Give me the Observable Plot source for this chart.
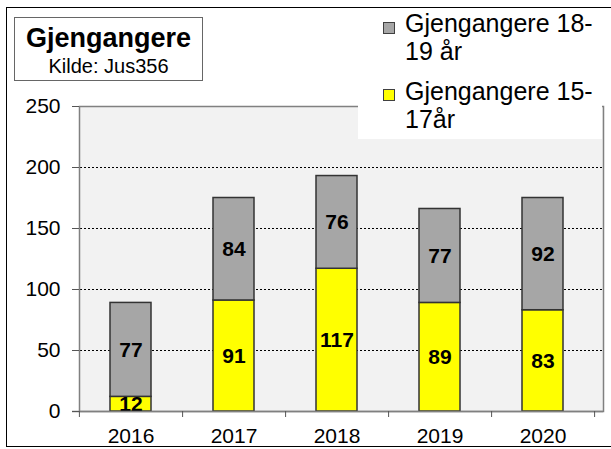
<!DOCTYPE html>
<html>
<head>
<meta charset="utf-8">
<script src="https://cdn.jsdelivr.net/npm/d3@7"></script>
<script src="https://cdn.jsdelivr.net/npm/@observablehq/plot@0.6"></script>
<style>
  html, body { margin: 0; padding: 0; background: #fff; }
  #wrap { position: relative; width: 611px; height: 449px; overflow: hidden; font-family: "Liberation Sans", Arial, sans-serif; }
  #wrap svg { position: absolute; left: 0; top: 0; }
  .outer { position: absolute; left: 6px; top: 7px; width: 640px; height: 440px; border: 1px solid #000; box-sizing: border-box; pointer-events: none; }
  .titlebox { position: absolute; left: 14px; top: 17px; width: 189px; height: 64px; border: 1px solid #666; box-sizing: border-box; background: #fff; text-align: center; }
  .t1 { position: absolute; left: 0; right: 0; top: 5px; font-weight: bold; font-size: 27px; line-height: 30px; }
  .t2 { position: absolute; left: 0; right: 0; top: 37px; font-size: 20px; line-height: 22px; }
  .legend { position: absolute; left: 358px; top: 8px; width: 244px; height: 131px; background: #fff; }
  .item { position: absolute; left: 47px; font-size: 25px; line-height: 28px; }
  .sw { position: absolute; left: 25px; width: 10px; height: 10px; border: 1px solid #404040; }
</style>
</head>
<body>
<div id="wrap"></div>
<script>
const years = ["2016", "2017", "2018", "2019", "2020"];
const series = ["Gjengangere 15-17år", "Gjengangere 18-19 år"];
const young = [12, 91, 117, 89, 83];
const old = [77, 84, 76, 77, 92];
const yTicks = [0, 50, 100, 150, 200, 250];
const gridTicks = [50, 100, 150, 200];
const colors = ["#ffff00", "#a6a6a6"];
const titleText = "Gjengangere";
const sourceText = "Kilde: Jus356";
const legendLines = [["Gjengangere 18-", "19 år"], ["Gjengangere 15-", "17år"]];

const data = years.flatMap((yr, i) => [
  {year: yr, series: series[0], value: young[i]},
  {year: yr, series: series[1], value: old[i]}
]);

const xRange = [79, 595];
const step = (xRange[1] - xRange[0]) / years.length;

const chart = Plot.plot({
  width: 611,
  height: 449,
  marginLeft: 79,
  marginRight: 8,
  marginTop: 106,
  marginBottom: 38,
  style: {fontFamily: "'Liberation Sans', Arial, sans-serif", fontSize: "21px", color: "#000", background: "transparent"},
  x: {domain: years, range: xRange, paddingInner: 0.6, paddingOuter: 0.3, label: null},
  y: {domain: [0, 250], label: null},
  color: {domain: series, range: colors},
  marks: [
    Plot.frame({fill: "#f2f2f2"}),
    Plot.ruleY(gridTicks, {stroke: "#000", strokeWidth: 1, strokeDasharray: "2,2", insetLeft: -7}),
    Plot.ruleY([0], {stroke: "#808080", strokeWidth: 1.5, insetLeft: -7}),
    Plot.barY(data, {x: "year", y: "value", fill: "series", stroke: "#333", strokeWidth: 1.5}),
    Plot.text(data, Plot.stackY({x: "year", y: "value", text: "value", fill: "#000", fontWeight: "bold", fontSize: 21})),
    Plot.frame({stroke: "#808080", strokeWidth: 1.5}),
    Plot.axisY({ticks: yTicks, tickSize: 7, tickPadding: 12, fontSize: 21, label: null, stroke: "#555"}),
    Plot.axisX({tickSize: 0, tickPadding: 17, fontSize: 21, label: null}),
    Plot.axisX({tickSize: 6, tickFormat: () => "", dx: step / 2, label: null, stroke: "#555"}),
    Plot.axisX({ticks: [years[0]], tickSize: 6, tickFormat: () => "", dx: -step / 2, label: null, stroke: "#555"})
  ]
});

const wrap = document.getElementById("wrap");
wrap.appendChild(chart);

const legend = document.createElement("div");
legend.className = "legend";
const tops = [1, 69];
const swTops = [14, 81];
const colOrder = [colors[1], colors[0]];
legendLines.forEach((lines, i) => {
  const sw = document.createElement("div");
  sw.className = "sw";
  sw.style.top = swTops[i] + "px";
  sw.style.background = colOrder[i];
  legend.appendChild(sw);
  const it = document.createElement("div");
  it.className = "item";
  it.style.top = tops[i] + "px";
  it.innerHTML = lines.join("<br>");
  legend.appendChild(it);
});
wrap.appendChild(legend);

const tb = document.createElement("div");
tb.className = "titlebox";
tb.innerHTML = `<div class="t1">${titleText}</div><div class="t2">${sourceText}</div>`;
wrap.appendChild(tb);

const outer = document.createElement("div");
outer.className = "outer";
wrap.appendChild(outer);
</script>
</body>
</html>
